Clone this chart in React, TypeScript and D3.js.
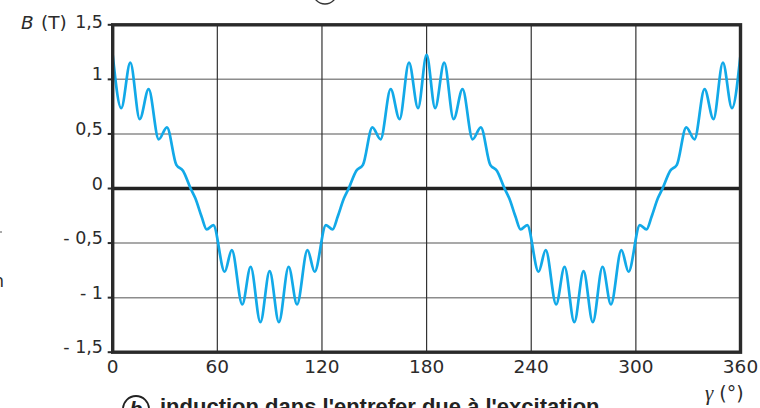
import React from "react";
import * as d3 from "d3";

// Angle γ (°) and induction B (T) (local extrema and shoulders)
const gammaDeg = [
  0, 4.9, 10.1, 15.5, 20.6, 26.4, 31.1, 36.5, 40.3, 44.7, 47.4, 51, 53.9, 57.7,
  64.2, 68.3, 74.3, 79.1, 84.7, 90, 95.3, 100.9, 105.7, 111.7, 115.8, 122.3,
  126.1, 129, 132.6, 135.3, 139.7, 143.5, 148.9, 153.6, 159.4, 164.5, 169.9, 175.1,
  180, 184.9, 190.1, 195.5, 200.6, 206.4, 211.1, 216.5, 220.3, 224.7, 227.4, 231,
  233.9, 237.7, 244.2, 248.3, 254.3, 259.1, 264.7, 270, 275.3, 280.9, 285.7,
  291.7, 295.8, 302.3, 306.1, 309, 312.6, 315.3, 319.7, 323.5, 328.9, 333.6,
  339.4, 344.5, 349.9, 355.1, 360,
];
const bTesla = [
  1.225, 0.736, 1.154, 0.635, 0.91, 0.451, 0.561, 0.216, 0.163, 0, -0.09, -0.259,
  -0.374, -0.335, -0.763, -0.564, -1.063, -0.717, -1.225, -0.757, -1.225, -0.717,
  -1.063, -0.564, -0.763, -0.335, -0.374, -0.259, -0.09, 0, 0.163, 0.216, 0.561,
  0.451, 0.91, 0.635, 1.154, 0.736,
  1.225, 0.736, 1.154, 0.635, 0.91, 0.451, 0.561, 0.216, 0.163, 0, -0.09, -0.259,
  -0.374, -0.335, -0.763, -0.564, -1.063, -0.717, -1.225, -0.757, -1.225, -0.717,
  -1.063, -0.564, -0.763, -0.335, -0.374, -0.259, -0.09, 0, 0.163, 0.216, 0.561,
  0.451, 0.91, 0.635, 1.154, 0.736, 1.225,
];

const xTicks = [0, 60, 120, 180, 240, 300, 360];
const xTickLabels = ["0", "60", "120", "180", "240", "300", "360"];
const yTicks = [1.5, 1, 0.5, 0, -0.5, -1, -1.5];
const yTickLabels = ["1,5", "1", "0,5", "0", "- 0,5", "- 1", "- 1,5"];
const yGrid = [1, 0.5, -0.5, -1];
const xGrid = [60, 120, 180, 240, 300];

export default function App() {
  const x = d3.scaleLinear().domain([0, 360]).range([112.7, 740.5]);
  const y = d3.scaleLinear().domain([-1.5, 1.5]).range([352.2, 24.8]);
  const pts = gammaDeg.map((g, i) => [g, bTesla[i]] as [number, number]);
  const line = d3
    .line<[number, number]>()
    .x((d) => x(d[0]))
    .y((d) => y(d[1]))
    .curve(d3.curveMonotoneX);
  const font = "'DejaVu Sans', sans-serif";
  const txt = "#2b2b2b";
  return (
    <svg
      width={760}
      height={408}
      style={{ position: "absolute", left: 0, top: 0, background: "#fff" }}
    >
      {/* cut-off neighbour fragments */}
      <circle cx={325} cy={-8} r={12} fill="none" stroke="#333" strokeWidth={1.3} />
      <line x1={0} x2={2} y1={232} y2={232} stroke="#555" strokeWidth={1} />
      <text x={4} y={287} fontFamily={font} fontSize={17} fill={txt} textAnchor="end">
        n
      </text>

      {/* grid */}
      {yGrid.map((v) => (
        <line key={"yg" + v} x1={x(0)} x2={x(360)} y1={y(v)} y2={y(v)} stroke="#8c8c8c" strokeWidth={1.5} />
      ))}
      {xGrid.map((v) => (
        <line key={"xg" + v} x1={x(v)} x2={x(v)} y1={y(1.5)} y2={y(-1.5)} stroke="#333" strokeWidth={1.2} />
      ))}
      <line x1={x(0)} x2={x(360)} y1={y(0)} y2={y(0)} stroke="#222" strokeWidth={3.5} />

      {/* curve */}
      <path d={line(pts) || ""} fill="none" stroke="#12a9e8" strokeWidth={2.7} strokeLinejoin="round" />

      {/* frame */}
      <rect
        x={x(0)}
        y={y(1.5)}
        width={x(360) - x(0)}
        height={y(-1.5) - y(1.5)}
        fill="none"
        stroke="#2a2a2a"
        strokeWidth={3.4}
      />

      {/* y ticks & labels */}
      {yTicks.map((v, i) => (
        <g key={"yt" + v}>
          <line x1={x(0) - 5} x2={x(0)} y1={y(v)} y2={y(v)} stroke="#2a2a2a" strokeWidth={2} />
          <text
            x={103}
            y={y(v) + (v === 1.5 ? 3 : 1)}
            fontFamily={font}
            fontSize={17.5}
            fill={txt}
            textAnchor="end"
          >
            {yTickLabels[i]}
          </text>
        </g>
      ))}
      {/* x labels */}
      {xTicks.map((v, i) => (
        <text key={"xt" + v} x={x(v)} y={373} fontFamily={font} fontSize={18.5} fill={txt} textAnchor="middle">
          {xTickLabels[i]}
        </text>
      ))}

      {/* axis titles */}
      <text x={21} y={29} fontFamily={font} fontSize={18.5} fill={txt}>
        <tspan fontStyle="italic">B</tspan>
        <tspan x={41}>(T)</tspan>
      </text>
      <text x={705} y={400} fontSize={19} fill={txt}>
        <tspan fontFamily="'Liberation Serif', serif" fontStyle="italic" fontSize={21}>γ</tspan>
        <tspan fontFamily={font}> (°)</tspan>
      </text>

      {/* caption, cut off at the bottom */}
      <circle cx={136} cy={409} r={13} fill="none" stroke="#222" strokeWidth={1.8} />
      <text x={136} y={416} fontFamily="'Liberation Sans', Arial, sans-serif" fontSize={21} fontWeight="bold" fill="#222" textAnchor="middle" fontStyle="italic">
        b
      </text>
      <text x={160} y={414} fontFamily="'Liberation Sans', Arial, sans-serif" fontSize={22} fontWeight="bold" fill="#222">
        induction dans l'entrefer due à l'excitation
      </text>
    </svg>
  );
}
